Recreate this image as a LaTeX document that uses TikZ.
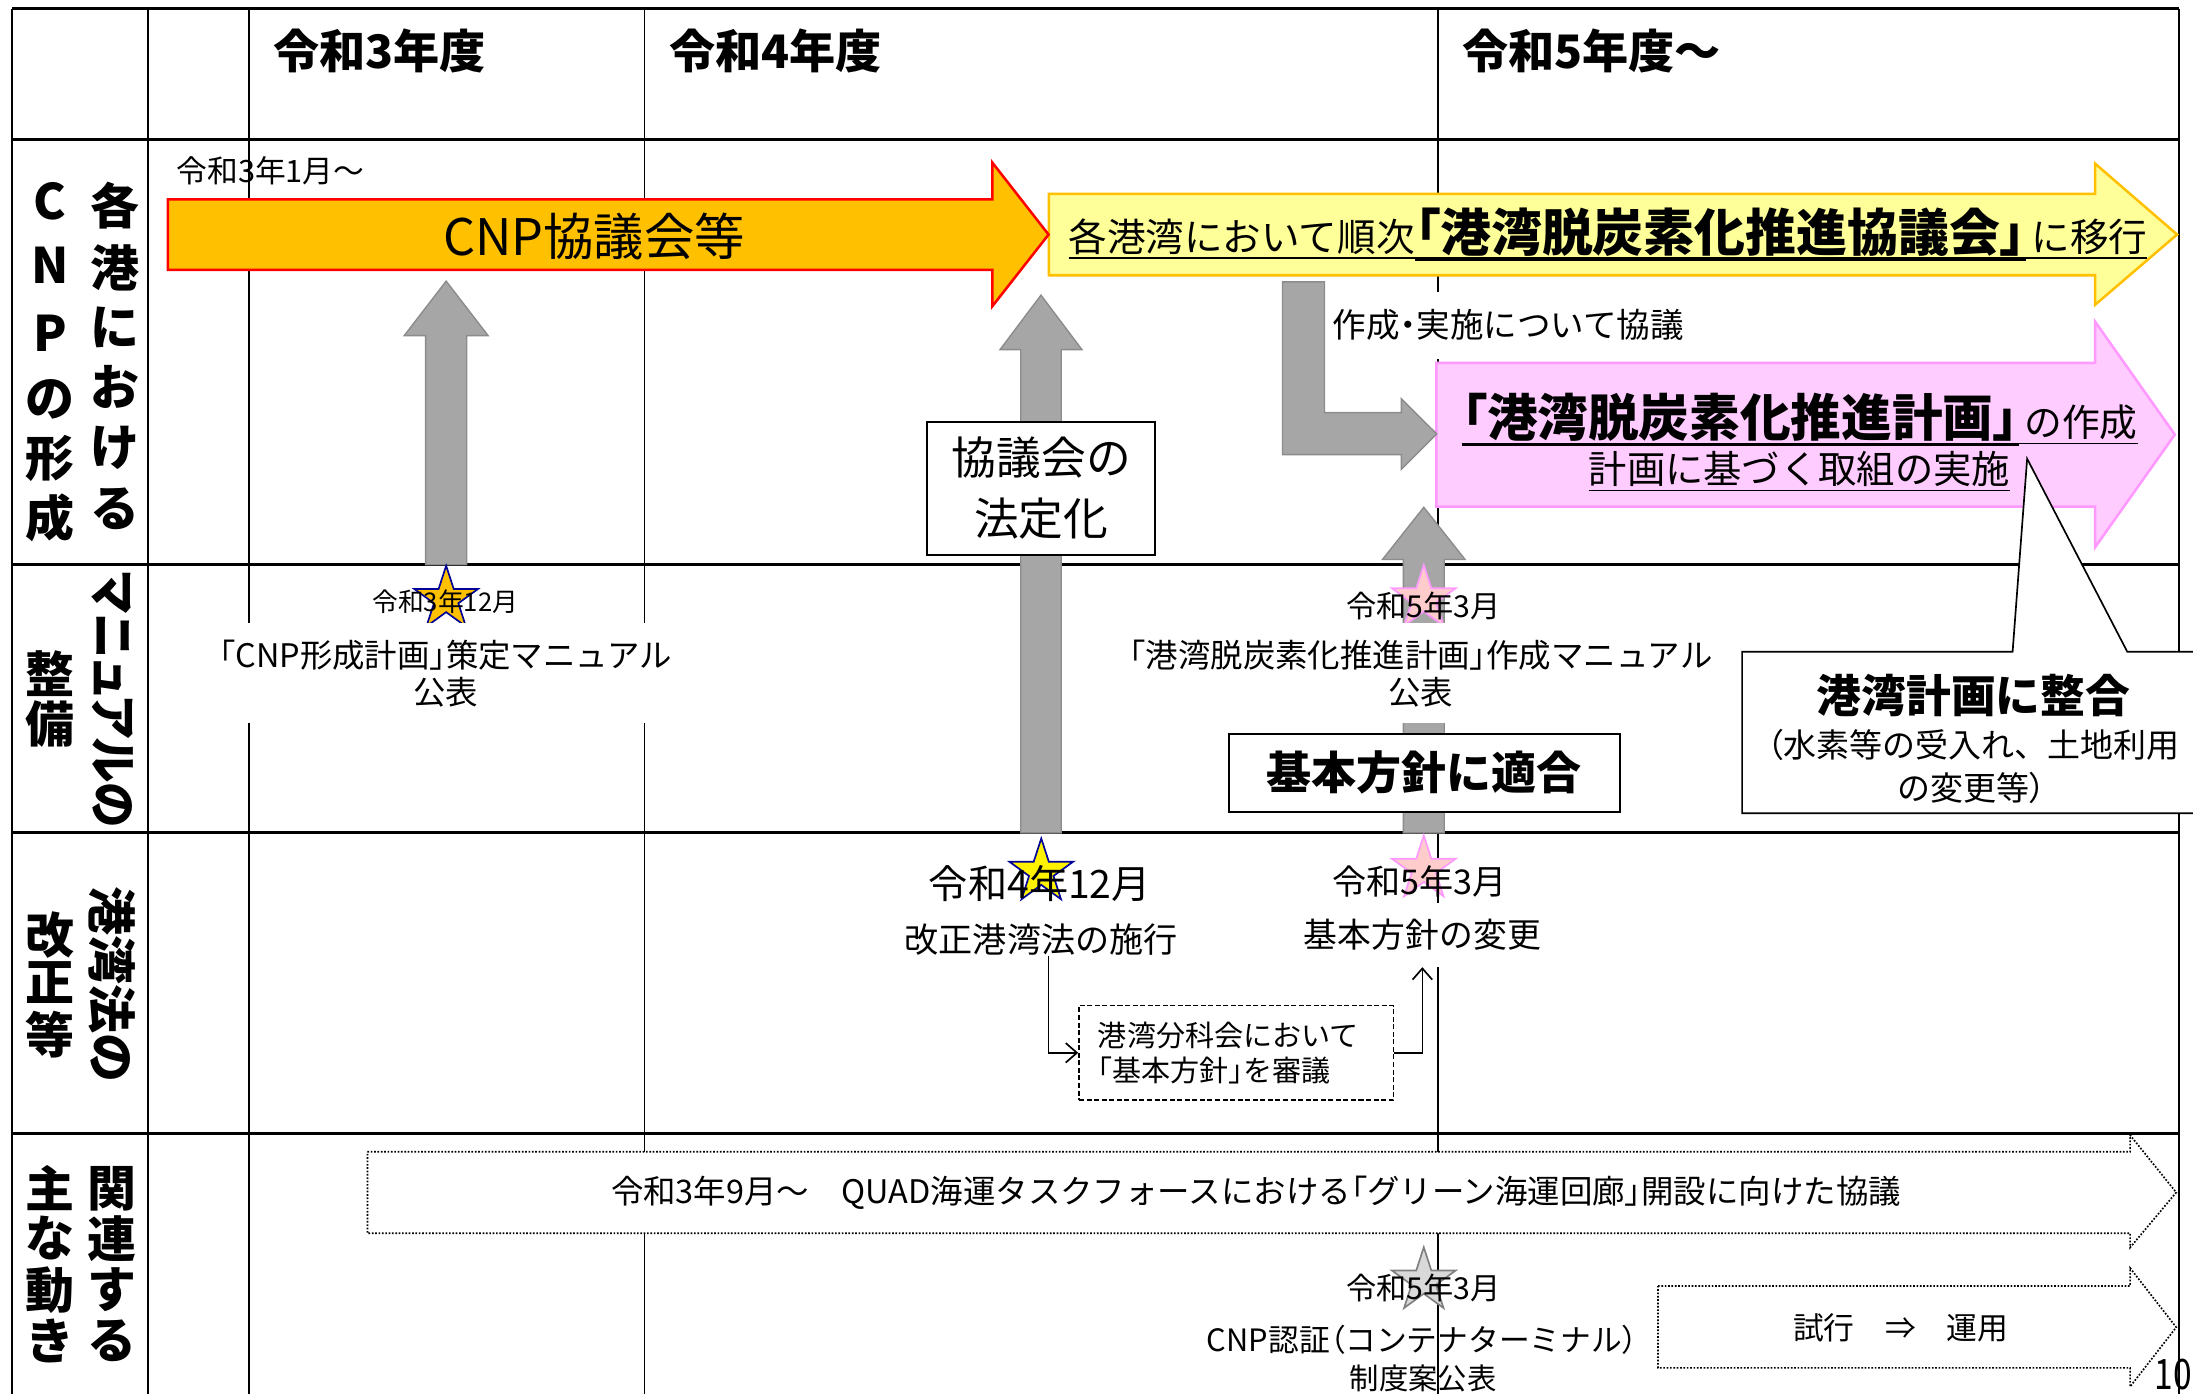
\documentclass[tikz,border=0pt]{standalone}
\usepackage{fontspec}
\usepackage{graphicx}
\setmainfont{Noto Sans CJK JP}
\usetikzlibrary{shapes.geometric,arrows.meta}
\definecolor{orangeF}{HTML}{FFC000}
\definecolor{yellowF}{HTML}{FFFF99}
\definecolor{pinkF}{HTML}{FFCCFF}
\definecolor{pinkD}{HTML}{FF99FF}
\definecolor{starPink}{HTML}{FFCCCC}
\definecolor{arrowG}{HTML}{A6A6A6}
\definecolor{arrowGD}{HTML}{8C8C8C}
\definecolor{starG}{HTML}{D9D9D9}
\definecolor{navyD}{HTML}{000099}
\newcommand\fsz[2]{\fontsize{#1}{#2}\selectfont}
\newcommand\ulx[2]{\setbox0=\hbox{#2}\leavevmode\rlap{\rule[-\dimexpr2.3pt+#1\relax]{\wd0}{#1}}\box0}
\newcommand\pal[1]{\leavevmode{\addfontfeatures{RawFeature=+palt}#1}}
\newcommand\lbk{\pal{「}}
\newcommand\rbk{\pal{」}}
\newcommand\lpar{\pal{（}}
\newcommand\rpar{\pal{）}}
\newcommand\garrowup[6]{\draw[garrow] (#1-#5,#6) -- (#1-#5,#3) -- (#1-#4,#3) -- (#1,#2) -- (#1+#4,#3) -- (#1+#5,#3) -- (#1+#5,#6) -- cycle;}
\tikzset{
  hline/.style={line width=1pt},
  vline/.style={line width=0.7pt},
  garrow/.style={fill=arrowG,draw=arrowGD,line width=0.5pt},
  dotarrow/.style={fill=white,draw=black,line width=0.6pt,dash pattern=on 0.6pt off 0.6pt},
  plain/.style={inner sep=0pt},
  lab/.style={inner sep=0pt,font=\fsz{17.5}{20}\bfseries},
  starnode/.style={star,star points=5,star point ratio=2.618,minimum size=24pt,inner sep=0pt,line width=0.6pt},
  whitebox/.style={fill=white,inner xsep=2pt,inner ysep=0pt},
  boxnode/.style={draw=black,fill=white,line width=0.7pt,inner sep=0pt,align=center},
  thinarrow/.style={line width=0.6pt,-{Straight Barb[length=4pt,width=7pt]}}
}
\begin{document}
\begin{tikzpicture}[x=0.5pt,y=-0.5pt]
\useasboundingbox[fill=white] (0,0) rectangle (1568,996.7);
% grid
\foreach \yy in {6.2,100,403.8,595.5,810.4} \draw[hline] (8.7,\yy) -- (1558,\yy);
\foreach \xx in {8.7,105.8,177.7,460.8,1028,1558} \draw[vline] (\xx,6.2) -- (\xx,996.7);
% big arrows
\draw[fill=yellowF,draw=orangeF,line width=0.9pt] (750,138.6) -- (1498,138.6) -- (1498,117) -- (1556.6,167.7) -- (1498,217.9) -- (1498,196.8) -- (750,196.8) -- cycle;
\draw[fill=orangeF,draw=red,line width=0.9pt] (120,142.5) -- (709.5,142.5) -- (709.5,116.2) -- (749.7,167.7) -- (709.5,219) -- (709.5,193) -- (120,193) -- cycle;
\draw[fill=pinkF,draw=pinkD,line width=0.9pt] (1027,259.5) -- (1498,259.5) -- (1498,230) -- (1555,310.7) -- (1498,391.3) -- (1498,362.2) -- (1027,362.2) -- cycle;
% gray arrows
\garrowup{319}{201}{240}{30}{14.7}{403.8}
\garrowup{744.3}{211}{250}{29.3}{14.5}{595.5}
\garrowup{1018}{362.7}{400}{29.5}{14.6}{595.5}
\draw[garrow] (917,201.5) -- (947,201.5) -- (947,295) -- (1002,295) -- (1002,285.2) -- (1027.2,310.2) -- (1002,335.4) -- (1002,325) -- (917,325) -- cycle;
% dotted arrows
\draw[dotarrow] (262.7,823.5) -- (1523,823.5) -- (1523,811.6) -- (1556,852.6) -- (1523,892) -- (1523,881.8) -- (262.7,881.8) -- cycle;
\draw[dotarrow] (1185.5,919.5) -- (1523,919.5) -- (1523,906.6) -- (1556,949) -- (1523,991.5) -- (1523,978) -- (1185.5,978) -- cycle;
% callout
\path[fill=white,draw=black,line width=0.6pt] (1568,466) -- (1521,466) -- (1449.4,328) -- (1439,466) -- (1245.6,466) -- (1245.6,581.5) -- (1568,581.5);
% boxes
\node[boxnode,minimum width=81.5pt,minimum height=47.5pt,font=\fsz{16}{21.5}] (hoteika) at (744.5,349) {協議会の\\法定化};
\node[boxnode,minimum width=139.75pt,minimum height=27.65pt,font=\fsz{16.1}{19}\bfseries] (tekigo) at (1018.25,552.6) {基本方針に適合};
\node[draw=black,fill=white,line width=0.6pt,dash pattern=on 1.8pt off 0.9pt,minimum height=33.75pt,text width=98.9pt,inner xsep=6.75pt,inner ysep=0pt,align=left,font=\fsz{10.4}{12.5}] (shingi) at (883.9,752.75) {港湾分科会において\\\lbk 基本方針\rbk を審議};
% stars
\node[starnode,fill=orangeF,draw=navyD] (st1) at (319,428.5) {};
\node[starnode,fill=yellow,draw=navyD] (st2) at (744.5,623.5) {};
\node[starnode,fill=starPink,draw=pinkD] (st3) at (1018,428) {};
\node[starnode,fill=starPink,draw=pinkD] (st4) at (1018,621.4) {};
\node[starnode,fill=starG,draw=gray] (st5) at (1018,915.8) {};
% header
\node[plain,anchor=west,font=\fsz{16.5}{20}\bfseries] (h3) at (195,36.5) {令和3年度};
\node[plain,anchor=west,font=\fsz{16.5}{20}\bfseries] (h4) at (478,36.5) {令和4年度};
\node[plain,anchor=west,font=\fsz{16.5}{20}\bfseries] (h5) at (1045,36.5) {令和5年度〜};
% row labels
\foreach \lbl/\yy [count=\nn] in {各/147,港/191.5,に/234,お/277,け/320.5,る/364} \node[lab] (ra\nn) at (82,\yy) {\lbl};
\foreach \lbl/\yy [count=\nn] in {C/143.6,N/190,P/238,の/285.5,形/328,成/370.5} \node[lab] (rb\nn) at (35.8,\yy) {\lbl};
\foreach \lbl/\yy [count=\nn] in {整/481.4,備/517.8} \node[lab] (rc\nn) at (36,\yy) {\lbl};
\node[lab,rotate=-90,font={\fsz{17.5}{20}\bfseries\addfontfeatures{RawFeature=+palt}}] (rd) at (80.5,500.3) {\scalebox{0.93}[1]{マニュアルの}};
\node[lab,rotate=-90,font={\fsz{17.5}{20}\bfseries\addfontfeatures{RawFeature=+palt}}] (re) at (80,703.7) {港湾法の};
\foreach \lbl/\yy [count=\nn] in {改/668.5,正/702.5,等/740} \node[lab] (rf\nn) at (36,\yy) {\lbl};
\foreach \lbl/\yy [count=\nn] in {関/849.7,連/885.8,す/922.4,る/958.6} \node[lab] (rg\nn) at (80,\yy) {\lbl};
\foreach \lbl/\yy [count=\nn] in {主/849.5,な/885.5,動/922.4,き/958.6} \node[lab] (rh\nn) at (36,\yy) {\lbl};
% row 1 texts
\node[plain,anchor=west,font=\fsz{11}{13}] (jan) at (125.8,122) {令和3年1月〜};
\node[plain,font=\fsz{18}{22}] (cnpk) at (424.7,169) {CNP協議会等};
\node[plain,anchor=base west] (ikou) at (763.6,179.5) {\fsz{13.8}{16}\ulx{0.6pt}{各港湾において順次}\ulx{1.2pt}{\fsz{18.2}{20}\bfseries\lbk 港湾脱炭素化推進協議会\rbk}\ulx{0.6pt}{\kern0.15em に移行}};
\node[whitebox,minimum height=24pt,font=\fsz{12}{13}] (kyogi) at (1078.4,232.5) {作成\kern-0.25em・\kern-0.25em 実施について協議};
\node[plain,anchor=base] (keikaku1) at (1286.7,312) {\ulx{1.2pt}{\fsz{18.1}{20}\bfseries\lbk 港湾脱炭素化推進計画\rbk}\ulx{0.6pt}{\fsz{13.5}{16}\kern0.15em の作成}};
\node[plain,anchor=base,font=\fsz{13.7}{16}] (keikaku2) at (1286.6,345.5) {\ulx{0.6pt}{計画に基づく取組の実施}};
% row 2 texts
\node[plain,font=\fsz{9.2}{11}] (d1) at (318.3,430) {令和3年12月};
\node[whitebox,minimum height=35.65pt,align=center,font=\fsz{11.6}{13.2}] (man1) at (318.6,481.4) {\lbk CNP形成計画\rbk 策定マニュアル\\公表};
\node[plain,font=\fsz{10.8}{13}] (d2) at (1017.7,433) {令和5年3月};
\node[whitebox,minimum height=35.65pt,align=center,font=\fsz{11.6}{13.2}] (man2) at (1016,481.4) {\lbk 港湾脱炭素化推進計画\rbk 作成マニュアル\\公表};
\node[plain,font=\fsz{16}{19}\bfseries] (seigo1) at (1411,497.5) {港湾計画に整合};
\node[plain,font=\fsz{11.8}{13}] (seigo2) at (1411,532.7) {\lpar 水素等の受入れ、土地利用};
\node[plain,font=\fsz{11.8}{13}] (seigo3) at (1410,563.7) {の変更等\rpar};
% row 3 texts
\node[plain,font=\fsz{14}{17}] (d3) at (743.5,631.6) {令和4年12月};
\node[plain,font=\fsz{12.2}{15}] (shiko) at (744.4,671.5) {改正港湾法の施行};
\node[plain,font=\fsz{12.2}{15}] (d4) at (1015,630) {令和5年3月};
\node[whitebox,minimum height=22.6pt,font=\fsz{12.1}{15}] (henko) at (1017,668.5) {基本方針の変更};
\draw[thinarrow] ([xshift=2.65pt]shiko.south) |- (shingi.west);
\draw[thinarrow] (shingi.east) -| (henko.south);
% row 4 texts
\node[plain,font=\fsz{11.6}{14}] (quad) at (898,853) {令和3年9月〜　QUAD海運タスクフォースにおける\lbk グリーン海運回廊\rbk 開設に向けた協議};
\node[plain,font=\fsz{10.8}{13}] (d5) at (1017.7,921) {令和5年3月};
\node[plain,font=\fsz{11}{13}] (cnpn) at (1016.9,958) {CNP認証\lpar コンテナターミナル\rpar};
\node[plain,font=\fsz{10.5}{13}] (seido) at (1017.6,985.6) {制度案公表};
\node[plain,font=\fsz{11}{13}] (unyo) at (1359,949.7) {試行　⇒　運用};
\node[plain,anchor=east,font=\fsz{15}{18}] (pg) at (1567.5,983) {\scalebox{0.8}[1]{10}};
\end{tikzpicture}
\end{document}
